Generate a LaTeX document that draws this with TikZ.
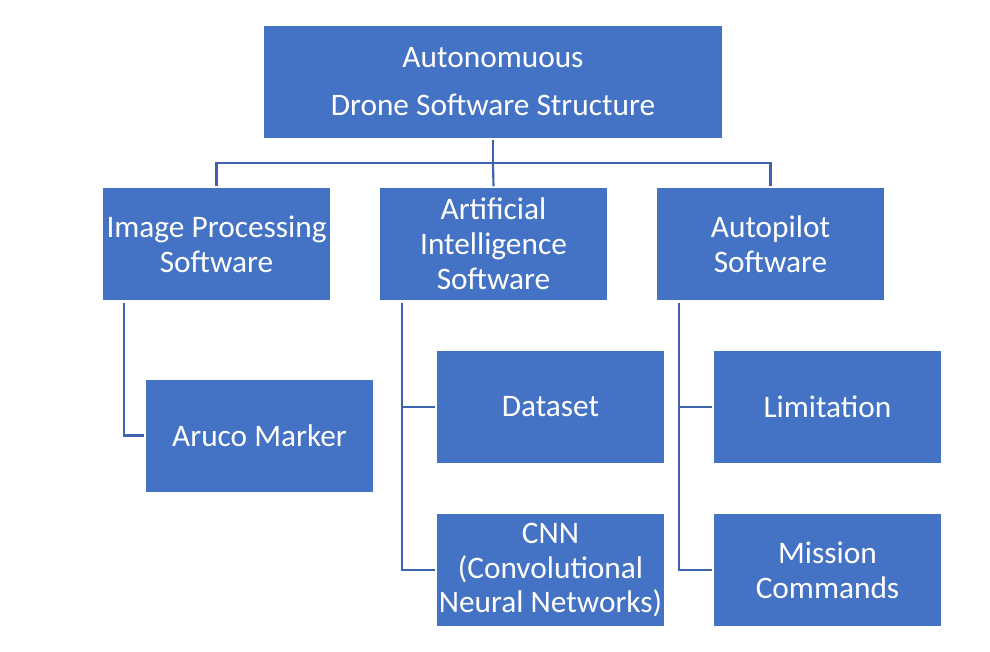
\documentclass[tikz,border=0pt]{standalone}
\usepackage{fontspec}
\setmainfont{Carlito}
\definecolor{boxblue}{HTML}{4472C4}
\definecolor{lineblue}{HTML}{3D63AE}
\begin{document}
\begin{tikzpicture}[x=0.75pt,y=-0.75pt,
  box/.style={draw=none,fill=boxblue,text=white,minimum width=170.25pt,minimum height=84pt,inner sep=0pt,align=center,font=\fontsize{23.5}{26.2}\selectfont},
  conn/.style={draw=lineblue,line width=1.6pt}]
\useasboundingbox (0,0) rectangle (990,651);
\node[box,minimum width=343.5pt,font=\fontsize{23.5}{36}\selectfont] (top) at (493,82) {Autonomuous\\Drone Software Structure};
\node[box] (ip) at (216.5,244) {Image Processing\\Software};
\node[box] (ai) at (493.5,244) {Artificial\\Intelligence\\Software};
\node[box] (ap) at (770.5,244) {Autopilot\\Software};
\node[box] (aruco) at (259.5,435.5) {Aruco Marker};
\node[box] (ds) at (550.5,407) {Dataset};
\node[box] (cnn) at (550.5,570) {CNN\\(Convolutional\\Neural Networks)};
\node[box] (lim) at (827.5,407) {Limitation};
\node[box] (mc) at (827.5,570) {Mission\\Commands};
\coordinate (hub) at (493,163);
\draw[conn] ([yshift=-1.5pt]top.south) -- (hub);
\draw[conn] (hub) -| ([yshift=1pt]ip.north);
\draw[conn] (hub) -| ([yshift=1pt]ap.north);
\draw[conn] (hub) -- ([yshift=1pt]ai.north);
\draw[conn] ([xshift=15.75pt,yshift=-2pt]ip.south west) |- ([xshift=-1pt]aruco.west);
\draw[conn] ([xshift=16.5pt,yshift=-2pt]ai.south west) |- ([xshift=-1pt]cnn.west);
\draw[conn] ([xshift=16.5pt]ai.south west |- ds.west) -- ([xshift=-1pt]ds.west);
\draw[conn] ([xshift=16.5pt,yshift=-2pt]ap.south west) |- ([xshift=-1pt]mc.west);
\draw[conn] ([xshift=16.5pt]ap.south west |- lim.west) -- ([xshift=-1pt]lim.west);
\end{tikzpicture}
\end{document}
